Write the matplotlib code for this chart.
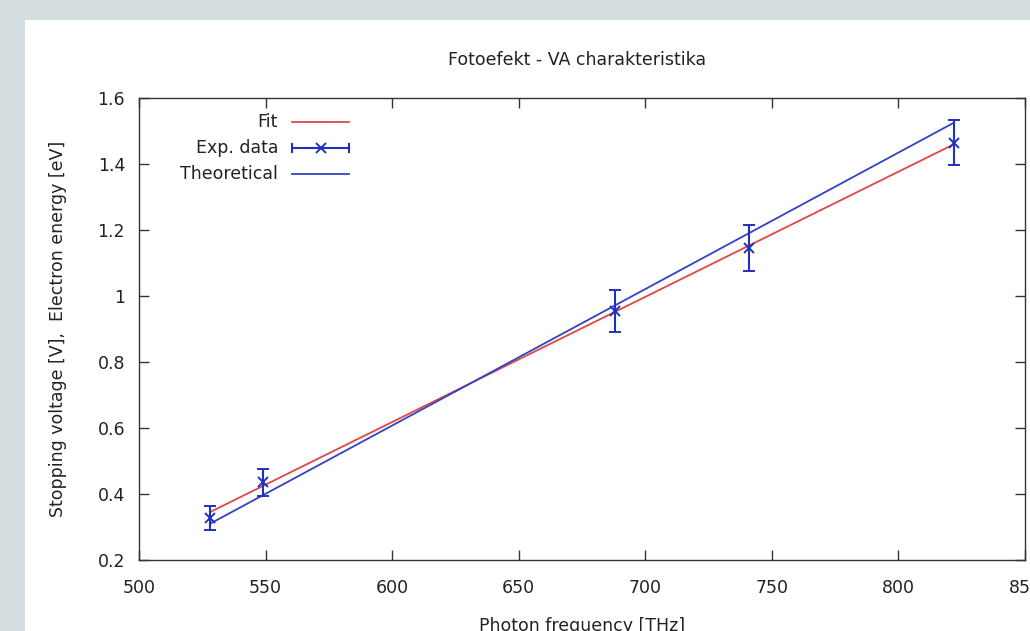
import numpy as np
import matplotlib
matplotlib.use("Agg")
import matplotlib.pyplot as plt
from matplotlib.patches import Rectangle

# measured points: photon frequency [THz], stopping voltage [V], error [V]
freq = [528, 549, 688, 741, 822]
voltage = [0.327, 0.436, 0.955, 1.145, 1.464]
voltage_err = [0.037, 0.041, 0.064, 0.070, 0.068]

# linear fit of the data and theoretical line (h/e slope)
fit_slope = 0.003793
fit_intercept = 0.345 - 0.003793 * 528
theory_slope = 0.0041357
theory_intercept = -1.874

x_ticks = [500, 550, 600, 650, 700, 750, 800, 850]
y_ticks = [0.2, 0.4, 0.6, 0.8, 1.0, 1.2, 1.4, 1.6]
y_ticklabels = ["0.2", "0.4", "0.6", "0.8", "1", "1.2", "1.4", "1.6"]

W, H = 1030, 631
red = "#e04646"
blue = "#1f2fc0"
navy = "#3440c8"
txt = "#222222"

fig = plt.figure(figsize=(W / 100, H / 100), dpi=100)
fig.patch.set_facecolor("#d4dde0")
fig.patches.append(Rectangle((25 / W, 0), 1, (H - 20) / H, transform=fig.transFigure,
                             facecolor="white", edgecolor="none", zorder=-10))

left, right, top, bottom = 139, 1025, 98, 560
ax = fig.add_axes([left / W, (H - bottom) / H, (right - left) / W, (bottom - top) / H])
ax.set_zorder(5)
ax.set_facecolor("white")

xs = np.array([min(freq), max(freq)])
ax.plot(xs, fit_slope * xs + fit_intercept, color=red, lw=1.3)
ax.plot(xs, theory_slope * xs + theory_intercept, color=navy, lw=1.3)
ax.errorbar(freq, voltage, yerr=voltage_err, fmt="x", color=blue, ms=7, mew=1.4,
            elinewidth=1.5, capsize=4.5, capthick=1.5)

ax.set_xlim(500, 850)
ax.set_ylim(0.2, 1.6)
ax.set_xticks(x_ticks)
ax.set_yticks(y_ticks)
ax.set_yticklabels(y_ticklabels)
ax.tick_params(direction="in", length=7.5, width=1, colors="#333333", labelcolor=txt,
               labelsize=12.5, top=True, right=True)
ax.tick_params(axis="x", pad=14)
ax.tick_params(axis="y", pad=10)
for s in ax.spines.values():
    s.set_color("#333333")
    s.set_linewidth(1)
ax.set_xlabel("Photon frequency [THz]", fontsize=12.5, color=txt, labelpad=14)

fig.text(577 / W, (H - 60) / H, "Fotoefekt - VA charakteristika", ha="center", va="center",
         fontsize=12.5, color=txt)
fig.text(58 / W, (H - 329) / H, "Stopping voltage [V],  Electron energy [eV]", rotation=90,
         ha="center", va="center", fontsize=12.5, color=txt)


# hand-drawn key in gnuplot style (text right, sample left)
def ap(px, py):
    return (px - left) / (right - left), (bottom - py) / (bottom - top)


key_rows = [("Fit", 122), ("Exp. data", 148), ("Theoretical", 174)]
for label, py in key_rows:
    tx, ty = ap(278, py)
    ax.text(tx, ty, label, transform=ax.transAxes, ha="right", va="center",
            fontsize=12.5, color=txt)
x0, y0 = ap(292, 122)
x1, _ = ap(349, 122)
ax.plot([x0, x1], [y0, y0], color=red, lw=1.3, transform=ax.transAxes, clip_on=False)
_, y1 = ap(0, 148)
ax.plot([x0, x1], [y1, y1], color=blue, lw=1.5, transform=ax.transAxes, clip_on=False)
ax.plot([x0, x0], [y1 - 0.009, y1 + 0.009], color=blue, lw=1.5, transform=ax.transAxes)
ax.plot([x1, x1], [y1 - 0.009, y1 + 0.009], color=blue, lw=1.5, transform=ax.transAxes)
ax.plot([(x0 + x1) / 2], [y1], "x", color=blue, ms=7, mew=1.4, transform=ax.transAxes)
_, y2 = ap(0, 174)
ax.plot([x0, x1], [y2, y2], color=navy, lw=1.3, transform=ax.transAxes, clip_on=False)

fig.savefig("out.png", dpi=100, facecolor=fig.get_facecolor())
